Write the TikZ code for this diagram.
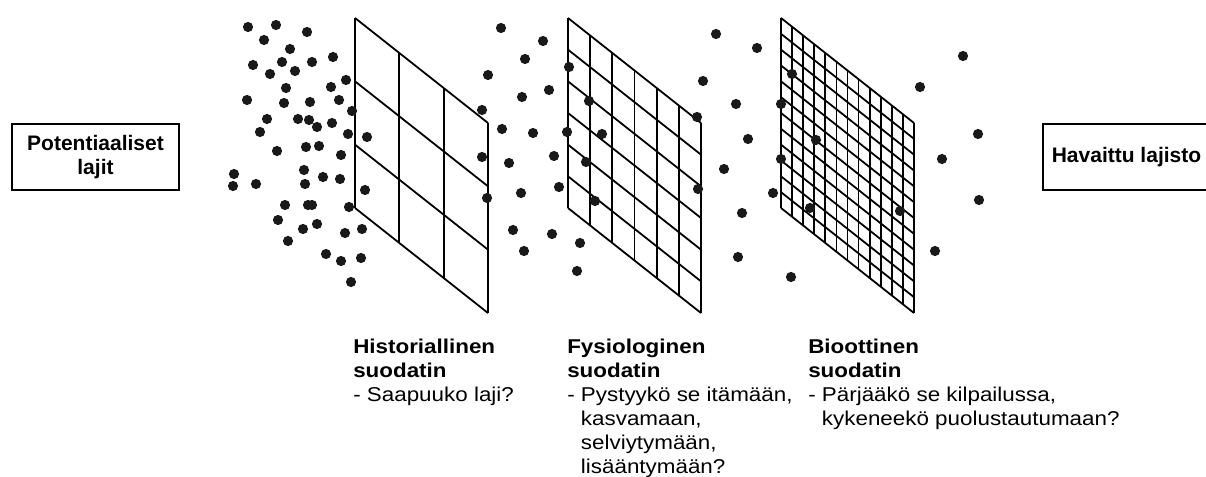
\documentclass[tikz,border=0pt]{standalone}
\usepackage{fontspec}
\setmainfont{Liberation Sans}
\newfontfamily\labelfont{Liberation Sans}[FakeStretch=1.12]
\usetikzlibrary{positioning}

\tikzset{
  spbox/.style={draw, line width=1.7pt, minimum width=125.25pt, minimum height=49.5pt,
    inner sep=0pt, align=center, font=\bfseries\fontsize{15.75}{18}\selectfont},
  filterlab/.style={anchor=north west, inner sep=0pt, align=left,
    font=\labelfont\fontsize{15}{18}\selectfont},
  sieve/.style={line width=1.35pt},
  species/.style={fill=black!90}
}

\begin{document}
\begin{tikzpicture}[x=0.75pt,y=-0.75pt]
   \useasboundingbox (0,0) rectangle (1206,477);

   % species pool and observed flora
   \node[spbox] (pool) at (95.5,157) {Potentiaaliset\\lajit};
   \node[spbox] (observed) at (1126.5,157) {Havaittu lajisto};

   % the three filters
   \foreach \gx/\gn in {355/3, 568/6, 781/12} {
     \begin{scope}[shift={(\gx,18)}, x={(99.75pt,-78.75pt)}, y={(0pt,-142.5pt)}]
       \foreach \i in {0,...,\gn} {
         \draw[sieve] (\i/\gn,0) -- (\i/\gn,1);
         \draw[sieve] (0,\i/\gn) -- (1,\i/\gn);
       }
     \end{scope}
   }

   % species
   \foreach \px/\py in {248/27,276/25,307/32,264/40,290/49,253/65,282/62,312/62,333/57,
       270/74,295/71,286/88,331/87,346/80,247/100,284/103,310/102,339/100,352/111,
       267/119,298/119,309/120,317/127,332/123,260/132,348/134,367/137,277/151,
       306/147,319/146,341/155,234/174,233/186,256/184,304/170,305/184,323/177,
       340/179,365/190,285/205,308/205,312/205,349/207,278/220,303/229,317/224,
       345/233,362/229,288/241,326/254,341/261,361/258,351/282}
     \fill[species] (\px,\py) circle (5.1);
   \foreach \px/\py in {501/28,488/75,482/110,502/129,482/157,509/163,487/198,513/230,
       543/41,525/59,549/90,522/97,533/133,554/156,521/193,559/187,552/234,524/251,
       580/243,577/271,569/67,589/101,567/132,602/134,586/162,595/201}
     \fill[species] (\px,\py) circle (5.1);
   \foreach \px/\py in {716/34,757/48,703/81,736/104,697/117,748/139,724/169,698/189,
       742/213,738/257,773/193,791/277,792/74,781/104,816/140,781/159,810/208,900/211,
       920/87,963/56,978/134,942/159,979/200,935/251}
     \fill[species] (\px,\py) circle (5.1);

   % filter labels
   \node[filterlab] (histlab) at (353,339) {\textbf{Historiallinen}\\
     \textbf{suodatin}\\- Saapuuko laji?};
   \node[filterlab] (fysiolab) at (567,339) {\textbf{Fysiologinen}\\
     \textbf{suodatin}\\- Pystyykö se itämään,\\
     \hphantom{-\ }kasvamaan,\\\hphantom{-\ }selviytymään,\\\hphantom{-\ }lisääntymään?};
   \node[filterlab] (biolab) at (808,339) {\textbf{Bioottinen}\\
     \textbf{suodatin}\\- Pärjääkö se kilpailussa,\\
     \hphantom{-\ }kykeneekö puolustautumaan?};
\end{tikzpicture}
\end{document}
